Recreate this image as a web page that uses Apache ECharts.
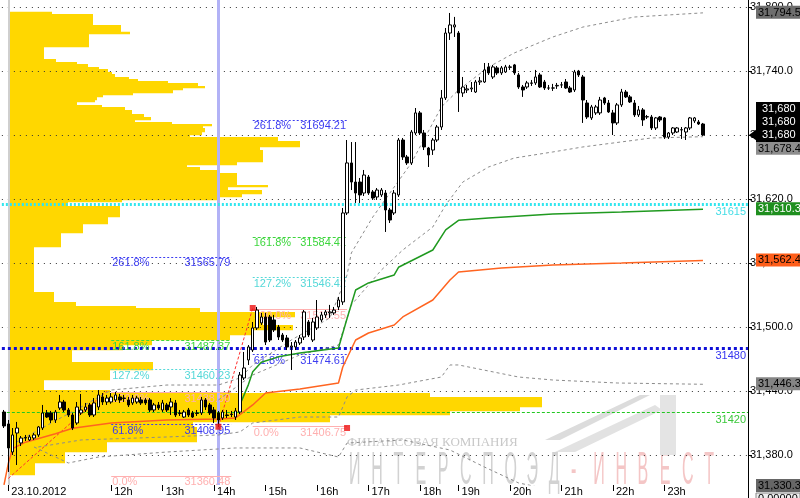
<!DOCTYPE html>
<html><head><meta charset="utf-8">
<script src="https://cdn.jsdelivr.net/npm/echarts@6/dist/echarts.min.js"></script>
<style>html,body{margin:0;padding:0;background:#fff}#c{width:800px;height:498px}</style>
</head><body><div id="c"></div><script>
// ---------------- DATA ----------------
const priceTicks = [31380, 31440, 31500, 31560, 31620, 31680, 31740, 31800];
const hourTicks = [1, 25, 37, 49, 61, 73, 85, 97, 106, 118, 130, 142, 154];
const hourLabels = ['23.10.2012','12h','13h','14h','15h','16h','17h','18h','19h','20h','21h','22h','23h'];

const opens = [31420.3,31409.1,31382.8,31400.6,31391.3,31395.9,31394.1,31395.9,31398.8,31405.3,31419.4,31419.4,31412.8,31424.1,31429.7,31422.2,31417.5,31410.0,31419.4,31422.2,31426.9,31417.5,31425.0,31434.4,31429.7,31429.7,31431.6,31434.4,31433.4,31431.6,31428.8,31429.7,31431.6,31431.6,31431.6,31422.2,31426.9,31422.2,31426.9,31425.0,31428.8,31419.4,31415.6,31422.2,31419.4,31419.4,31419.4,31431.6,31426.9,31422.2,31419.4,31414.7,31417.5,31418.4,31415.6,31420.3,31452.2,31469.1,31478.4,31499.1,31503.8,31509.4,31509.4,31506.6,31500.0,31492.5,31489.7,31481.3,31481.3,31485.0,31490.6,31504.7,31487.8,31499.1,31506.6,31511.3,31513.2,31513.2,31518.8,31523.5,31606.9,31653.8,31635.9,31635.9,31625.6,31640.6,31626.6,31621.9,31623.8,31625.6,31609.7,31606.9,31623.8,31675.3,31659.4,31653.8,31681.9,31700.7,31681.9,31667.8,31665.9,31675.3,31687.5,31714.7,31775.6,31781.3,31775.6,31719.4,31722.2,31723.2,31720.3,31729.7,31729.7,31743.8,31734.4,31742.9,31738.2,31739.1,31743.8,31745.7,31736.3,31725.0,31725.0,31728.8,31728.8,31736.3,31729.7,31724.1,31724.1,31726.0,31726.9,31729.7,31724.1,31722.2,31740.0,31734.4,31710.0,31696.0,31700.7,31700.7,31714.7,31710.0,31700.7,31691.3,31708.2,31720.3,31715.7,31710.0,31698.8,31703.5,31696.9,31696.9,31686.6,31696.9,31696.0,31678.1,31681.9,31682.8,31684.7,31682.8,31686.6,31693.2,31692.2,31690.3];
const closes = [31407.2,31386.6,31398.8,31405.3,31395.9,31396.5,31396.9,31398.8,31406.3,31419.4,31415.6,31412.8,31420.3,31429.7,31422.2,31417.5,31405.3,31425.0,31422.2,31425.0,31417.5,31428.8,31436.3,31429.7,31433.4,31434.4,31436.3,31431.6,31433.0,31426.9,31433.4,31433.4,31428.8,31428.8,31422.2,31426.9,31424.1,31428.8,31422.2,31429.7,31417.5,31419.0,31420.3,31417.5,31415.6,31419.0,31431.6,31425.0,31419.4,31414.7,31412.8,31420.3,31417.0,31418.0,31421.3,31455.0,31461.6,31481.3,31499.1,31515.9,31509.4,31485.9,31487.8,31497.2,31490.6,31487.8,31481.3,31482.2,31485.9,31489.7,31514.1,31492.5,31504.7,31509.4,31511.3,31514.1,31514.1,31515.9,31525.3,31606.9,31653.8,31635.9,31625.6,31623.8,31642.5,31625.6,31620.9,31628.4,31628.4,31609.7,31600.3,31625.6,31675.3,31659.4,31653.8,31682.8,31700.7,31681.9,31668.8,31661.3,31675.3,31687.5,31714.7,31775.6,31783.2,31783.2,31719.4,31725.0,31723.2,31724.1,31729.7,31730.7,31741.0,31738.2,31743.8,31738.2,31742.9,31743.8,31743.5,31738.2,31725.0,31722.2,31728.8,31728.5,31734.4,31725.0,31724.1,31724.0,31724.0,31726.5,31727.0,31724.1,31720.3,31739.1,31736.3,31712.8,31696.9,31706.3,31706.3,31712.8,31710.0,31701.6,31691.3,31708.2,31720.3,31715.7,31711.0,31698.8,31703.5,31694.1,31697.2,31686.6,31696.0,31694.1,31678.1,31681.9,31686.6,31686.6,31685.0,31686.6,31696.0,31696.0,31690.3,31680.0];
const lows = [31405.3,31364.1,31380.0,31370.6,31388.4,31393.1,31393.1,31394.1,31396.9,31403.4,31414.7,31410.0,31410.0,31422.2,31420.3,31415.6,31403.4,31408.2,31417.5,31420.3,31415.6,31415.6,31422.2,31426.9,31426.9,31428.0,31429.7,31428.8,31429.7,31425.0,31426.9,31428.0,31426.9,31426.9,31420.3,31420.3,31422.2,31420.3,31420.3,31417.5,31415.6,31416.6,31414.7,31415.6,31414.7,31416.6,31417.5,31422.2,31417.5,31410.0,31406.3,31412.8,31414.7,31415.6,31412.8,31418.4,31450.3,31464.4,31476.6,31497.2,31501.9,31483.1,31485.9,31495.3,31487.8,31485.9,31478.4,31459.7,31478.4,31483.1,31487.8,31490.6,31485.9,31497.2,31504.7,31508.5,31508.5,31511.3,31515.9,31520.7,31605.0,31628.4,31616.3,31616.3,31622.8,31623.8,31619.1,31619.1,31621.9,31589.1,31597.5,31605.0,31621.9,31656.6,31651.9,31651.9,31680.0,31680.0,31665.9,31650.0,31661.3,31673.4,31684.7,31712.8,31769.1,31771.9,31701.6,31715.7,31719.4,31720.3,31719.4,31726.9,31728.8,31736.3,31732.5,31736.3,31736.3,31738.2,31741.0,31736.3,31723.2,31715.7,31723.2,31726.0,31726.9,31724.1,31722.2,31722.2,31721.3,31723.2,31724.1,31723.2,31719.4,31720.3,31734.4,31691.3,31695.0,31694.1,31698.8,31698.8,31708.2,31700.7,31680.0,31689.4,31706.3,31714.7,31710.0,31696.9,31696.9,31688.5,31695.0,31684.7,31684.7,31692.2,31676.3,31676.3,31680.0,31681.9,31676.3,31675.3,31684.7,31691.3,31689.4,31679.1];
const highs = [31422.2,31412.8,31405.3,31411.0,31397.8,31398.8,31398.8,31400.6,31407.2,31426.9,31422.2,31421.3,31422.2,31436.3,31431.6,31424.1,31419.4,31429.7,31437.2,31428.8,31428.8,31433.4,31440.9,31438.1,31436.3,31438.1,31439.1,31437.2,31436.3,31434.4,31436.3,31435.4,31434.4,31433.4,31433.4,31428.8,31429.7,31431.6,31428.8,31433.4,31431.6,31422.2,31422.2,31424.1,31421.3,31422.2,31434.4,31433.4,31428.8,31425.0,31421.3,31422.2,31422.2,31421.3,31424.1,31457.8,31476.6,31483.1,31504.7,31518.8,31513.2,31513.2,31511.3,31511.3,31501.9,31494.4,31492.5,31485.9,31487.8,31492.5,31515.9,31506.6,31508.5,31525.3,31514.1,31515.9,31520.7,31518.8,31528.2,31611.6,31675.3,31673.4,31673.4,31639.7,31647.2,31642.5,31628.4,31630.3,31630.3,31628.4,31611.6,31628.4,31677.2,31677.2,31661.3,31684.7,31705.3,31702.5,31684.7,31668.8,31677.2,31689.4,31722.2,31780.3,31794.4,31790.7,31777.5,31734.4,31726.9,31729.7,31731.6,31734.4,31747.5,31747.5,31745.7,31744.7,31744.7,31745.7,31745.7,31746.6,31738.2,31726.9,31730.7,31731.6,31741.0,31738.2,31731.6,31726.9,31727.9,31728.8,31729.7,31732.5,31726.0,31741.0,31741.0,31736.3,31712.8,31708.2,31708.2,31715.7,31715.7,31712.8,31703.5,31710.0,31723.2,31722.2,31717.5,31712.8,31707.2,31705.3,31698.8,31698.8,31696.9,31697.8,31696.9,31682.8,31687.5,31687.5,31687.5,31687.5,31696.9,31696.9,31694.1,31691.3];

// volume profile rows: upper price, lower price, volume
const profileHigh = [31795.6,31793.4,31783.1,31776.8,31774.7,31762.5,31751.2,31748.4,31746.6,31743.7,31741.9,31739.1,31737.2,31734.4,31732.5,31730.6,31728.8,31725.9,31724.1,31722.2,31719.4,31717.5,31715.6,31712.8,31710.9,31708.1,31706.2,31703.4,31699.7,31696.9,31694.1,31692.2,31690.3,31688.4,31686.6,31682.8,31680.0,31678.1,31674.4,31668.7,31665.9,31654.7,31651.9,31650.0,31647.2,31644.4,31633.1,31631.2,31628.4,31624.7,31621.9,31619.1,31617.2,31613.4,31603.1,31596.6,31588.1,31575.0,31532.8,31523.4,31519.7,31517.8,31514.1,31509.4,31501.9,31497.2,31492.5,31487.8,31483.1,31478.4,31467.2,31459.7,31450.3,31440.9,31438.1,31434.4,31425.0,31421.3,31417.5,31410.9,31406.2,31392.2,31382.8,31372.5];
const profileLow  = [31793.4,31783.1,31776.8,31774.7,31762.5,31751.2,31748.4,31746.6,31743.7,31741.9,31739.1,31737.2,31734.4,31732.5,31730.6,31728.8,31725.9,31724.1,31722.2,31719.4,31717.5,31715.6,31712.8,31710.9,31708.1,31706.2,31703.4,31699.7,31696.9,31694.1,31692.2,31690.3,31688.4,31686.6,31682.8,31680.0,31678.1,31674.4,31668.7,31665.9,31654.7,31651.9,31650.0,31647.2,31644.4,31633.1,31631.2,31628.4,31624.7,31621.9,31619.1,31617.2,31613.4,31603.1,31596.6,31588.1,31575.0,31532.8,31523.4,31519.7,31517.8,31514.1,31509.4,31501.9,31497.2,31492.5,31487.8,31483.1,31478.4,31467.2,31459.7,31450.3,31440.9,31438.1,31434.4,31425.0,31421.3,31417.5,31410.9,31406.2,31392.2,31382.8,31372.5,31361.3];
const profileVolume = [44,85,113,122,81,36,48,69,80,91,100,104,107,121,130,160,190,197,175,165,125,95,89,87,69,94,117,124,136,143,127,164,204,195,197,194,182,270,292,252,255,229,179,192,209,229,260,220,254,234,209,114,60,112,100,75,53,26,46,68,128,192,287,255,285,245,222,144,115,64,145,102,36,102,422,534,512,442,322,185,189,99,57,27];

// indicator lines [bar index, price]
const vwapGreen = [[55,31427],[57,31446],[58,31458],[60,31467],[64,31472],[69,31475.6],[78,31480.3],[80,31508],[82,31534.7],[85,31541.3],[91,31548.8],[92,31556],[100,31572.2],[103,31591],[106,31600],[113,31602.2],[128,31605.9],[144,31607.8],[163,31610.3]];
const vwapOrange = [[0,31352],[1,31372],[2,31386],[5,31392],[12,31400],[16,31405],[25,31410],[38,31412.8],[50,31413.8],[54,31414.7],[58,31426.9],[61,31438.1],[69,31441.9],[78,31447.5],[79,31462.5],[82,31487.8],[85,31494.4],[91,31501.9],[93,31509.4],[100,31525.3],[104,31544.1],[106,31551.6],[116,31555.3],[128,31558.1],[144,31560.0],[163,31562.4]];
const bandUpper2 = [[3,31392.2],[11,31410.0],[18,31425.0],[25,31440.9],[38,31445.6],[50,31445.6],[55,31452.2],[58,31464.4],[67,31487.8],[76,31508.5],[80,31548.8],[81,31569.4],[86,31603.1],[95,31653.8],[102,31706.3],[106,31722.2],[113,31743.7],[119,31756.9],[128,31771.9],[135,31781.2],[147,31790.6],[163,31794.5]];
const bandUpper1 = [[50,31431.6],[58,31455],[69,31473.8],[78,31483.1],[81,31520.7],[88,31553.4],[93,31572.2],[100,31593.8],[103,31614.4],[107,31635.9],[113,31650.0],[119,31658.4],[128,31664.1],[135,31668.8],[151,31677.2],[163,31678.4]];
const bandLower1 = [[8,31387.5],[18,31394.1],[38,31396.9],[50,31398.8],[55,31401.6],[58,31410.0],[69,31415.6],[78,31415.6],[80,31434.4],[82,31440.9],[92,31445.6],[102,31453.1],[104,31464.4],[106,31464.4],[120,31453.1],[128,31450.3],[143,31447.5],[163,31446.3]];
const bandLower2 = [[7,31387.5],[15,31372.5],[22,31378.1],[38,31382.8],[54,31386.6],[69,31386.6],[78,31378.1],[80,31391.2],[93,31394.1],[104,31384.7],[112,31368.8],[120,31353.8],[139,31337.8],[163,31330.3]];

// levels
const levelCyan = 31615, levelBlue = 31480, levelGreen = 31420;
// fibonacci
const fibLevels = ['261.8%','161.8%','127.2%','100.0%','61.8%','0.0%'];
const fibLeftValues = [31565.79, 31487.37, 31460.23, 31438.90, 31408.95, 31360.48];
const fibRightValues = [31694.21, 31584.41, 31546.42, 31516.55, 31474.61, 31406.75];
const fibLeftSpan = [25, 53], fibRightSpan = [58, 80];
const pivotPoints = [[50,31406.5],[58,31517.8],[80,31405.3]];
const zigzagLeft = [[1,31358],[24,31440]];
const zigzagRight = [[50,31406.5],[58,31517.8]];
const lastValues = {up2:31794.5, last:31680, up1:31678.4, green:31610.3, orange:31562.4, low1:31446.3, low2:31330.3};

// ---------------- CHART ----------------
const FONT = "'Liberation Sans', Arial, sans-serif";
const Y_MIN = 31351.87, Y_MAX = 31806.56;
const barTimes = ['22.10 23:45'];
const pad = n => (n < 10 ? '0' : '') + n;
for (let k = 0; k < 105; k++) { const m = 600 + 5 * k; barTimes.push(pad(Math.floor(m / 60)) + ':' + pad(m % 60)); }
for (let k = 0; k < 58; k++) { const m = 1140 + 5 * k; barTimes.push(pad(Math.floor(m / 60)) + ':' + pad(m % 60)); }
for (let k = 0; k < 10; k++) barTimes.push('x' + k);
const tickSet = new Set(hourTicks);
const labelMap = {}; hourTicks.forEach((t, k) => labelMap[t] = hourLabels[k]);
const fmtAxis = v => v.toLocaleString('en-US', {minimumFractionDigits: 1, maximumFractionDigits: 1});

const fibColors = ['#3c3cf0', '#3ed63e', '#55d8d8', '#ffb0b0', '#3c3cf0', '#ffb0b0'];
const fibTypes = [[2, 2], [3, 2], [2, 2], 'solid', [2, 2], 'solid'];
function fibItems(values, span) {
  const out = [];
  values.forEach((v, k) => {
    const lab = {show: true, color: fibColors[k], fontSize: 11, fontFamily: FONT, distance: 1};
    out.push([{coord: [span[0], v], lineStyle: {color: fibColors[k], type: fibTypes[k], width: 1},
      label: Object.assign({}, lab, {position: 'insideStartBottom', formatter: fibLevels[k]})}, {coord: [span[1], v]}]);
    out.push([{coord: [span[0], v], lineStyle: {color: 'rgba(255,255,255,0)', width: 0.01},
      label: Object.assign({}, lab, {position: 'insideEndBottom', formatter: v.toFixed(2)})}, {coord: [span[1], v]}]);
  });
  return out;
}
const fibData = fibItems(fibLeftValues, fibLeftSpan).concat(fibItems(fibRightValues, fibRightSpan));
fibData.push([{coord: zigzagLeft[0], lineStyle: {color: '#ff3030', type: [3, 2], width: 1}, label: {show: false}}, {coord: zigzagLeft[1]}]);
fibData.push([{coord: zigzagRight[0], lineStyle: {color: '#ff3030', type: [3, 2], width: 1}, label: {show: false}}, {coord: zigzagRight[1]}]);

const bandStyle = {color: '#8c8c8c', width: 1, type: [3, 3]};
const lineSeries = (data, style, z) => ({type: 'line', xAxisIndex: 0, yAxisIndex: 0, data, showSymbol: false, symbol: 'none', silent: true, z, lineStyle: style});

const chart = echarts.init(document.getElementById('c'));
chart.setOption({
  animation: false,
  backgroundColor: '#ffffff',
  grid: [
    {left: 1.86, right: 52, top: 0, bottom: 13},
    {left: 8, right: 52, top: 0, bottom: 13}
  ],
  xAxis: [
    {type: 'category', gridIndex: 0, data: barTimes, boundaryGap: true,
      axisLine: {show: false},
      axisTick: {show: true, alignWithLabel: true, interval: i => tickSet.has(i), length: 6, lineStyle: {color: '#000'}},
      axisLabel: {interval: i => tickSet.has(i), formatter: (v, i) => labelMap[i] || '', align: 'left', padding: [0, 0, 0, 3], margin: 1, fontSize: 11, color: '#000', fontFamily: FONT},
      splitLine: {show: false}},
    {type: 'value', gridIndex: 1, min: 0, max: 740, show: false}
  ],
  yAxis: [
    {type: 'value', gridIndex: 0, position: 'right', min: Y_MIN, max: Y_MAX,
      axisLine: {show: true, lineStyle: {color: '#000'}},
      axisTick: {show: true, length: 4, customValues: priceTicks, lineStyle: {color: '#000'}},
      axisLabel: {customValues: priceTicks, formatter: fmtAxis, margin: 2, fontSize: 11, color: '#000', fontFamily: FONT},
      splitLine: {show: false}},
    {type: 'value', gridIndex: 1, min: Y_MIN, max: Y_MAX, show: false}
  ],
  series: [
    {type: 'custom', xAxisIndex: 1, yAxisIndex: 1, z: 1, silent: true, clip: true,
      data: profileHigh.map((h, k) => [h, profileLow[k], profileVolume[k]]),
      encode: {x: 2, y: [0, 1]},
      renderItem: (params, api) => {
        const a = api.coord([0, api.value(0)]);
        const b = api.coord([api.value(2), api.value(1)]);
        return {type: 'rect', shape: {x: a[0], y: a[1], width: b[0] - a[0], height: b[1] - a[1] + 0.3}, style: {fill: '#FFD700'}};
      }},
    {type: 'line', xAxisIndex: 0, yAxisIndex: 0, data: [], z: 2, silent: true,
      markLine: {silent: true, symbol: ['none', 'none'], animation: false, z: 2, label: {show: false},
        data: priceTicks.map(v => ({yAxis: v, lineStyle: {color: '#333', width: 1, type: [1, 5]}}))
          .concat([{xAxis: 1, lineStyle: {color: '#cfcfcf', width: 2, type: 'solid'}}])}},
    {type: 'line', xAxisIndex: 0, yAxisIndex: 0, data: [], z: 3, silent: true,
      markLine: {silent: true, symbol: ['none', 'none'], animation: false, z: 3,
        data: [
          {xAxis: 50, lineStyle: {color: '#b2b2f6', width: 3, type: 'solid'}, label: {show: false}},
          {yAxis: levelCyan, lineStyle: {color: '#33e6ee', width: 3, type: [2, 2]}, label: {show: true, position: 'insideEndBottom', formatter: String(levelCyan), color: '#44dde6', fontSize: 11, fontFamily: FONT, distance: 2}},
          {yAxis: levelBlue, lineStyle: {color: '#1010d8', width: 3, type: [3, 3]}, label: {show: true, position: 'insideEndBottom', formatter: String(levelBlue), color: '#3434f0', fontSize: 11, fontFamily: FONT, distance: 2}},
          {yAxis: levelGreen, lineStyle: {color: '#22c822', width: 1, type: [3, 2]}, label: {show: true, position: 'insideEndBottom', formatter: String(levelGreen), color: '#3cc83c', fontSize: 11, fontFamily: FONT, distance: 2}}
        ]}},
    {type: 'line', xAxisIndex: 0, yAxisIndex: 0, data: [], z: 4, silent: true,
      markLine: {silent: true, symbol: ['none', 'none'], animation: false, z: 4, data: fibData}},
    lineSeries(bandUpper2, bandStyle, 4),
    lineSeries(bandUpper1, bandStyle, 4),
    lineSeries(bandLower1, bandStyle, 4),
    lineSeries(bandLower2, bandStyle, 4),
    lineSeries(vwapOrange, {color: '#ff6420', width: 1.5}, 4),
    lineSeries(vwapGreen, {color: '#209a20', width: 1.5}, 4),
    {type: 'candlestick', xAxisIndex: 0, yAxisIndex: 0, z: 5, barWidth: 3, silent: true,
      data: opens.map((o, k) => [o, closes[k], lows[k], highs[k]]),
      itemStyle: {color: '#ffffff', color0: '#000000', borderColor: '#000000', borderColor0: '#000000', borderWidth: 1}},
    {type: 'scatter', xAxisIndex: 0, yAxisIndex: 0, z: 7, silent: true, symbol: 'rect', symbolSize: 6,
      data: pivotPoints, itemStyle: {color: '#ee1010'}}
  ]
});

// right-side value boxes and watermark
const py = v => chart.convertToPixel({yAxisIndex: 0}, v);
const boxes = [
  {v: lastValues.up2, t: '31,794.5', bg: '#6e6e6e', fg: '#000', dy: 0},
  {v: lastValues.up1, t: '31,678.4', bg: '#8e8e8e', fg: '#000', dy: 12},
  {v: lastValues.green, t: '31,610.3', bg: '#1f8f1f', fg: '#fff', dy: 0},
  {v: lastValues.orange, t: '31,562.4', bg: '#ff5e1a', fg: '#000', dy: 0},
  {v: lastValues.low1, t: '31,446.3', bg: '#858585', fg: '#000', dy: 0},
  {v: lastValues.low2, t: '31,330.3', bg: '#666666', fg: '#000', dy: 0}
];
const g = [];
boxes.forEach(b => {
  const y = Math.min(py(b.v) + b.dy, 486);
  g.push({type: 'rect', z: 20, shape: {x: 756, y: y - 7, width: 44, height: 13}, style: {fill: b.bg}});
  g.push({type: 'text', z: 21, style: {text: b.t, x: 758, y: y, fill: b.fg, font: '11px ' + FONT, verticalAlign: 'middle'}});
});
const yl = py(lastValues.last);
g.push({type: 'rect', z: 20, shape: {x: 756, y: yl - 33, width: 44, height: 40}, style: {fill: '#000'}});
g.push({type: 'polygon', z: 20, shape: {points: [[749, yl], [757, yl - 6], [757, yl + 6]]}, style: {fill: '#000'}});
['31,680', '31,680', '31,680'].forEach((t, k) => g.push({type: 'text', z: 21, style: {text: t, x: 762, y: yl - 26 + 13 * k, fill: '#fff', font: '11px ' + FONT, verticalAlign: 'middle'}}));
g.push({type: 'rect', z: 20, shape: {x: 756, y: 493, width: 44, height: 12}, style: {fill: '#eee', stroke: '#888'}});
g.push({type: 'text', z: 21, style: {text: '0.00000', x: 758, y: 499, fill: '#000', font: '11px ' + FONT, verticalAlign: 'middle'}});
g.push({type: 'line', z: 20, shape: {x1: 748.5, y1: 485, x2: 748.5, y2: 498}, style: {stroke: '#000', lineWidth: 1}});
// watermark
g.push({type: 'text', z: -5, style: {text: 'ФИНАНСОВАЯ КОМПАНИЯ', x: 347, y: 443, fill: '#c8c8c8', font: '13px "Liberation Serif", serif', verticalAlign: 'middle'}});
const wm = 'ИНТЕРСПОЭД-ИНВЕСТ';
[...wm].forEach((ch, k) => g.push({type: 'text', z: -5, x: 349 + k * 22.2, y: 448, scaleY: 2.9,
  style: {text: ch, x: 0, y: 0, fill: k >= 10 ? '#f4c6c6' : '#d2d2d2', font: '16px ' + FONT, verticalAlign: 'top'}}));
// logo stripes
g.push({type: 'polygon', z: -5, shape: {points: [[545, 440], [640, 395], [650, 395], [560, 440]]}, style: {fill: '#dcdcdc'}});
g.push({type: 'polygon', z: -5, shape: {points: [[555, 452], [655, 405], [662, 410], [575, 452]]}, style: {fill: '#e2e2e2'}});
g.push({type: 'polygon', z: -5, shape: {points: [[660, 395], [676, 395], [676, 455], [660, 455]]}, style: {fill: '#e4e4e4'}});
chart.setOption({graphic: g});
</script></body></html>
